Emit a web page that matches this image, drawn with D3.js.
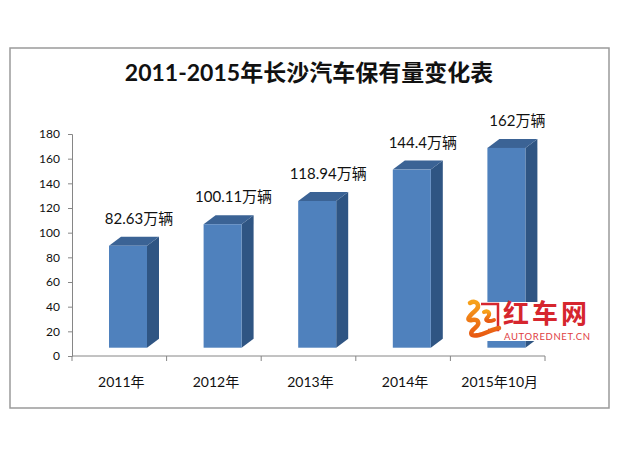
<!DOCTYPE html>
<html><head><meta charset="utf-8">
<script src="https://cdn.jsdelivr.net/npm/d3@7/dist/d3.min.js"></script>
<style>
html,body{margin:0;padding:0;background:#fff;}
svg{display:block;}
text{font-family:Lato,"Noto Sans CJK SC",sans-serif;}
</style></head>
<body>
<svg id="chart" width="620" height="465"></svg>
<script>
const title = "2011-2015年长沙汽车保有量变化表";
const categories = ["2011年","2012年","2013年","2014年","2015年10月"];
const values = [82.63, 100.11, 118.94, 144.4, 162];
const valueLabels = ["82.63万辆","100.11万辆","118.94万辆","144.4万辆","162万辆"];
const yTicks = [0,20,40,60,80,100,120,140,160,180];

const svg = d3.select("#chart");
svg.append("rect").attr("x",0).attr("y",0).attr("width",620).attr("height",465).attr("fill","#fff");
svg.append("rect").attr("x",10).attr("y",48).attr("width",599).attr("height",360)
  .attr("fill","#fff").attr("stroke","#9a9a9a").attr("stroke-width",1.5);

svg.append("text").attr("x",309).attr("y",81).attr("text-anchor","middle")
  .attr("font-size",23).attr("font-weight","bold").attr("fill","#111").text(title);

const y = d3.scaleLinear().domain([0,180]).range([356,134]);
const x = d3.scaleBand().domain(categories).range([72,545]).padding(0);

// y axis
const yAxis = svg.append("g").attr("transform","translate(72,0)")
  .call(d3.axisLeft(y).tickValues(yTicks).tickSize(4).tickPadding(8));
yAxis.selectAll("path,line").attr("stroke","#868686");
yAxis.selectAll("text").attr("font-size",12).attr("fill","#111")
  .attr("font-family",'Lato,"Noto Sans CJK SC",sans-serif');

// x axis
const xAxis = svg.append("g").attr("transform","translate(0,356)")
  .call(d3.axisBottom(x).tickSize(5).tickFormat(""));
xAxis.select("path").attr("stroke","#868686").attr("d","M72,0H545");
xAxis.selectAll(".tick").remove();
const bounds = categories.map(c=>x(c)).concat([x.range()[1]]);
xAxis.selectAll("line.sep").data(bounds).enter().append("line")
  .attr("x1",d=>d).attr("x2",d=>d).attr("y1",0).attr("y2",5).attr("stroke","#868686");
svg.append("g").selectAll("text").data(categories).enter().append("text")
  .attr("x",d=>x(d)+x.bandwidth()/2+2).attr("y",387).attr("text-anchor","middle")
  .attr("font-size",14).attr("fill","#111").text(d=>d);

// 3D bars
const dx = 12, dy = -9, shift = 8.3, off = 37, bw = 38;
const bars = svg.append("g");
categories.forEach((c,i)=>{
  const x0 = x(c)+off, x1 = x0+bw;
  const yb = y(0)-shift, yt = y(values[i])-shift;
  bars.append("path").attr("d",`M${x1},${yt}L${x1+dx},${yt+dy}L${x1+dx},${yb+dy}L${x1},${yb}Z`)
    .attr("fill","#2f5583");
  bars.append("path").attr("d",`M${x0},${yt}L${x0+dx},${yt+dy}L${x1+dx},${yt+dy}L${x1},${yt}Z`)
    .attr("fill","#3b6395");
  bars.append("rect").attr("x",x0).attr("y",yt).attr("width",bw).attr("height",yb-yt)
    .attr("fill","#4f81bd");
  bars.append("text").attr("x",x0+30).attr("y",yt-22).attr("text-anchor","middle")
    .attr("font-size",15).attr("fill","#111").text(valueLabels[i]);
});

// watermark
const wm = svg.append("g");
wm.append("rect").attr("x",462).attr("y",302).attr("width",132).attr("height",39).attr("fill","#fff");
const grad = svg.append("defs").append("linearGradient").attr("id","og").attr("x1",0).attr("y1",0).attr("x2",0).attr("y2",1);
grad.append("stop").attr("offset","0").attr("stop-color","#f7a21b");
grad.append("stop").attr("offset","1").attr("stop-color","#e85a12");
wm.append("path").attr("d","M481,304L498,304L498,330L488,330").attr("fill","none").attr("stroke","#d6262e").attr("stroke-width",2.5);
wm.append("path").attr("d","M470,303C477,299 481,306 475,311C468,317 466,321 472,320C478,319 481,323 475,328C469,333 470,337 479,335C487,333 493,329 499,328")
  .attr("fill","none").attr("stroke","url(#og)").attr("stroke-width",4.5).attr("stroke-linecap","round");
wm.append("path").attr("d","M484,312C489,310 491,314 487,318C484,321 489,322 494,320")
  .attr("fill","none").attr("stroke","url(#og)").attr("stroke-width",4).attr("stroke-linecap","round");
wm.append("text").attr("x",503).attr("y",323).attr("font-size",26).attr("font-weight","bold")
  .attr("fill","#d6262e").attr("font-family",'"Noto Sans CJK SC",sans-serif').attr("textLength",84).text("红车网");
wm.append("text").attr("x",504).attr("y",340).attr("font-size",9.5).attr("fill","#e0403f")
  .attr("font-family",'"Liberation Sans",sans-serif').attr("textLength",86).text("AUTOREDNET.CN");
</script>
</body></html>
